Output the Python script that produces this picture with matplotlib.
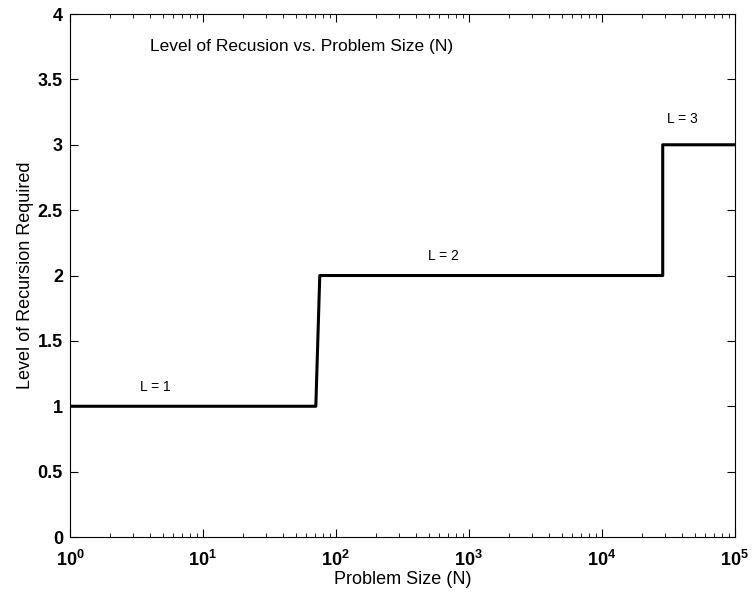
"""Level of recursion vs. problem size — step chart."""

import matplotlib
matplotlib.use("Agg")
import matplotlib.pyplot as plt
from matplotlib.ticker import FixedLocator, LogLocator, NullFormatter

# ---------------------------------------------------------------------------
# Data
# ---------------------------------------------------------------------------

problem_size = [1, 70.7, 75.7, 28750, 28750, 1e5]
recursion_level = [1, 1, 2, 2, 3, 3]

level_labels = ["L = 1", "L = 2", "L = 3"]
label_x = [4.4, 640, 40600]
label_y = [1.15, 2.15, 3.2]

y_ticks = [0, 0.5, 1, 1.5, 2, 2.5, 3, 3.5, 4]
y_tick_labels = ["0", "0.5", "1", "1.5", "2", "2.5", "3", "3.5", "4"]

# ---------------------------------------------------------------------------
# Plot
# ---------------------------------------------------------------------------

plt.rcParams["font.family"] = ["Liberation Sans", "DejaVu Sans"]

fig = plt.figure(figsize=(7.52, 5.97), dpi=100)
ax = fig.add_axes([0.093, 0.1005, 0.884, 0.876])

ax.plot(problem_size, recursion_level, color="black", linewidth=2.2)

ax.set_xscale("log")
ax.set_xlim(1, 1e5)
ax.set_ylim(0, 4)

ax.xaxis.set_major_locator(LogLocator(base=10, numticks=10))
ax.xaxis.set_minor_locator(LogLocator(base=10, subs=range(2, 10), numticks=20))
ax.xaxis.set_minor_formatter(NullFormatter())
ax.yaxis.set_major_locator(FixedLocator(y_ticks))
ax.set_yticklabels(y_tick_labels)

ax.tick_params(which="both", direction="in", top=True, right=True)
ax.tick_params(which="major", length=6, labelsize=13)
ax.tick_params(which="minor", length=3)
ax.tick_params(axis="x", which="major", pad=9)
ax.tick_params(axis="y", which="major", pad=5)
for lbl in ax.get_xticklabels() + ax.get_yticklabels():
    lbl.set_fontweight("bold")

ax.set_xlabel("Problem Size (N)", fontsize=13, labelpad=1)
ax.set_ylabel("Level of Recursion Required", fontsize=13, labelpad=3)

ax.text(3.98, 3.75, "Level of Recusion vs. Problem Size (N)", fontsize=12.5,
        ha="left", va="center")
for txt, x, y in zip(level_labels, label_x, label_y):
    ax.text(x, y, txt, fontsize=10, ha="center", va="center")

fig.savefig("out.png", dpi=100)
